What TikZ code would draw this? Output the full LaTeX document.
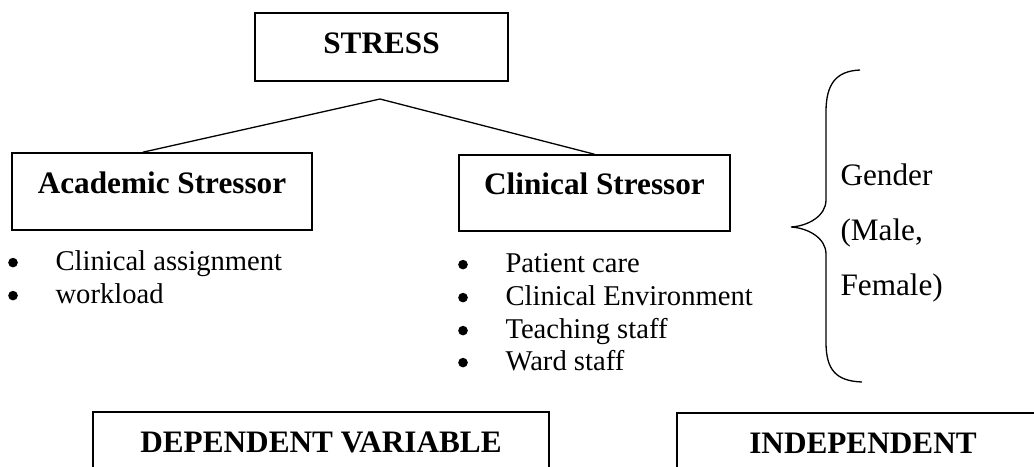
\documentclass[tikz,border=0pt]{standalone}
\usepackage{fontspec}
\setmainfont{Liberation Serif}

\begin{document}
\begin{tikzpicture}[x=0.0135cm, y=-0.0135cm, every node/.style={font=\fontsize{11}{13}\selectfont}, hbox/.style={draw, line width=0.6pt, font=\fontsize{12}{14}\selectfont\bfseries, text height=0.28cm, text depth=0.23cm}, item/.style={anchor=base west, inner sep=0pt}]
	\useasboundingbox (0,0) rectangle (1034,466);
	\clip (0,0) rectangle (1034,466);
	\node[hbox, minimum width=3.416cm, minimum height=0.918cm, text depth=0.118cm] (stress) at (381.5,47) {STRESS};
	\node[hbox, minimum width=4.05cm, minimum height=1.04cm] (acad) at (162,191.5) {Academic Stressor};
	\node[hbox, minimum width=3.659cm, minimum height=1.026cm] (clin) at (594.5,193) {Clinical Stressor};
	\coordinate (apex) at (380,99);
	\draw[line width=0.5pt] ([xshift=-0.26cm]acad.north) -- (apex) -- (clin.north);
	\node[item] (a1) at (55,270) {Clinical assignment};
	\node[item] (a2) at (55,303) {workload};
	\node[item] (c1) at (505,272) {Patient care};
	\node[item] (c2) at (505,305) {Clinical Environment};
	\node[item] (c3) at (505,338) {Teaching staff};
	\node[item] (c4) at (505,370) {Ward staff};
	\foreach \n in {a1,a2,c1,c2,c3,c4}
		\fill ([xshift=-0.567cm, yshift=0.1cm]\n.base west) circle (1.85pt);
	\draw[line width=0.5pt] (860,70) .. controls (836,71) and (826,84) .. (826,112) -- (826,200) .. controls (826,216) and (808,226) .. (791,227) .. controls (808,228) and (826,238) .. (826,254) -- (826,342) .. controls (826,370) and (836,381) .. (862,382);
	\node[item, font=\fontsize{12}{14}\selectfont] (g1) at (840,185) {Gender};
	\node[item, font=\fontsize{12}{14}\selectfont] (g2) at (840,240) {(Male,};
	\node[item, font=\fontsize{12}{14}\selectfont] (g3) at (840,295) {Female)};
	\node[hbox, minimum width=6.156cm, minimum height=1.04cm] (dep) at (321,450.5) {DEPENDENT VARIABLE};
	\node[hbox, minimum width=5.022cm, minimum height=1.04cm] (indep) at (863,451.5) {INDEPENDENT};
\end{tikzpicture}
\end{document}
